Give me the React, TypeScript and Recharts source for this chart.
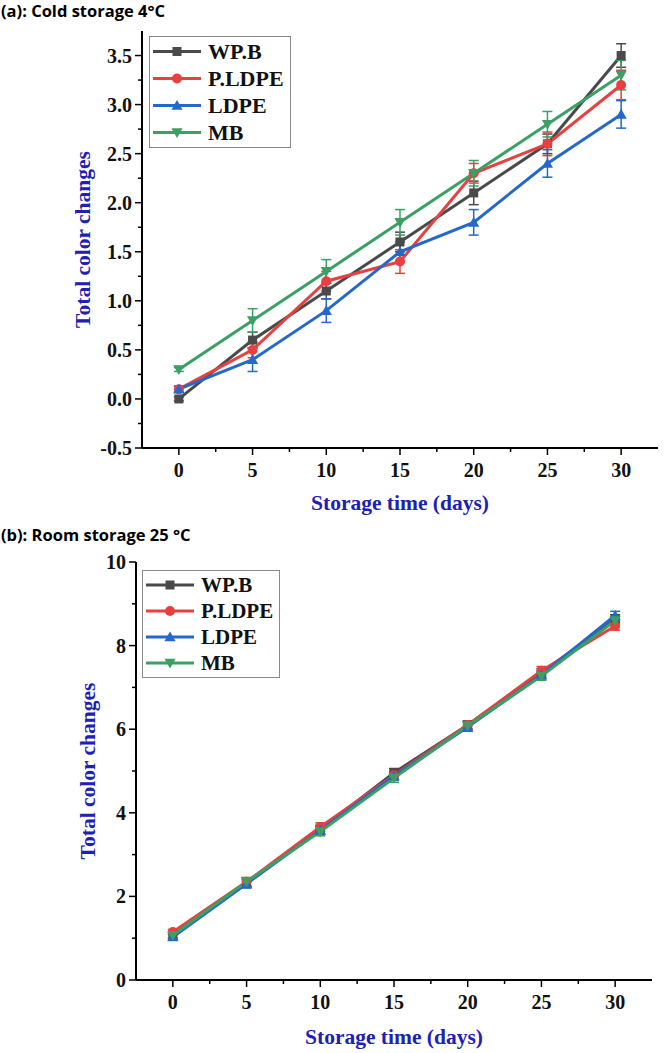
import React from 'react';
import { LineChart, Line, XAxis, YAxis, ErrorBar, Legend } from 'recharts';

// ---------- data ----------
const days = [0, 5, 10, 15, 20, 25, 30];
const seriesNames = ['WP.B', 'P.LDPE', 'LDPE', 'MB'];

// (a) cold storage 4 °C
const coldWPB = [0.0, 0.6, 1.1, 1.6, 2.1, 2.6, 3.5];
const coldWPBErr = [0.02, 0.08, 0.08, 0.1, 0.12, 0.1, 0.12];
const coldPLDPE = [0.1, 0.5, 1.2, 1.4, 2.3, 2.6, 3.2];
const coldPLDPEErr = [0.03, 0.08, 0.1, 0.12, 0.1, 0.12, 0.15];
const coldLDPE = [0.1, 0.4, 0.9, 1.5, 1.8, 2.4, 2.9];
const coldLDPEErr = [0.03, 0.12, 0.12, 0.1, 0.13, 0.14, 0.14];
const coldMB = [0.3, 0.8, 1.3, 1.8, 2.3, 2.8, 3.3];
const coldMBErr = [0.02, 0.12, 0.12, 0.13, 0.13, 0.13, 0.15];

// (b) room storage 25 °C
const roomWPB = [1.07, 2.33, 3.6, 4.96, 6.1, 7.35, 8.64];
const roomWPBErr = [0.06, 0.1, 0.1, 0.1, 0.1, 0.1, 0.1];
const roomPLDPE = [1.15, 2.35, 3.66, 4.9, 6.1, 7.4, 8.47];
const roomPLDPEErr = [0.06, 0.1, 0.1, 0.1, 0.1, 0.1, 0.1];
const roomLDPE = [1.03, 2.3, 3.58, 4.88, 6.05, 7.3, 8.72];
const roomLDPEErr = [0.06, 0.1, 0.1, 0.1, 0.1, 0.1, 0.1];
const roomMB = [1.07, 2.35, 3.55, 4.83, 6.08, 7.27, 8.6];
const roomMBErr = [0.06, 0.1, 0.1, 0.1, 0.1, 0.1, 0.1];

// ticks
const xTicks = [0, 2.5, 5, 7.5, 10, 12.5, 15, 17.5, 20, 22.5, 25, 27.5, 30];
const xMajorTicks = [0, 5, 10, 15, 20, 25, 30];
const coldYTicks = [-0.5, -0.25, 0, 0.25, 0.5, 0.75, 1, 1.25, 1.5, 1.75, 2, 2.25, 2.5, 2.75, 3, 3.25, 3.5];
const coldYMajor = [-0.5, 0, 0.5, 1, 1.5, 2, 2.5, 3, 3.5];
const roomYTicks = [0, 1, 2, 3, 4, 5, 6, 7, 8, 9, 10];
const roomYMajor = [0, 2, 4, 6, 8, 10];

// ---------- style ----------
const SERIF = '"Liberation Serif", "Times New Roman", serif';
const SANS = '"Open Sans", "Noto Sans", sans-serif';
const LABEL_BLUE = '#2020b4';
const keys = ['wpb', 'pldpe', 'ldpe', 'mb'];
const colors = ['#4a4a4a', '#e8403f', '#2468cc', '#3aa064'];
const shapes = ['square', 'circle', 'up', 'down'];

const buildTable = (a: number[], ae: number[], b: number[], be: number[], c: number[], ce: number[], d: number[], de: number[]) =>
  days.map((day, i) => ({
    day,
    wpb: a[i], wpbErr: ae[i],
    pldpe: b[i], pldpeErr: be[i],
    ldpe: c[i], ldpeErr: ce[i],
    mb: d[i], mbErr: de[i],
  }));

const coldData = buildTable(coldWPB, coldWPBErr, coldPLDPE, coldPLDPEErr, coldLDPE, coldLDPEErr, coldMB, coldMBErr);
const roomData = buildTable(roomWPB, roomWPBErr, roomPLDPE, roomPLDPEErr, roomLDPE, roomLDPEErr, roomMB, roomMBErr);

function Marker({ shape, cx, cy, color, size }: any) {
  const s = size;
  if (cx == null || cy == null) return null;
  switch (shape) {
    case 'square':
      return <rect x={cx - s / 2} y={cy - s / 2} width={s} height={s} fill={color} />;
    case 'circle':
      return <circle cx={cx} cy={cy} r={s / 2 + 0.5} fill={color} />;
    case 'up':
      return (
        <polygon
          points={`${cx},${cy - s * 0.62} ${cx - s * 0.62},${cy + s * 0.48} ${cx + s * 0.62},${cy + s * 0.48}`}
          fill={color}
        />
      );
    default:
      return (
        <polygon
          points={`${cx},${cy + s * 0.62} ${cx - s * 0.62},${cy - s * 0.48} ${cx + s * 0.62},${cy - s * 0.48}`}
          fill={color}
        />
      );
  }
}

function LegendBox({ fontSize, rowH }: { fontSize: number; rowH: number }) {
  return (
    <div
      style={{
        border: '1.5px solid #8a8a8a',
        background: '#fff',
        padding: '1px 6px 1px 2px',
        display: 'inline-block',
      }}
    >
      {seriesNames.map((name, i) => (
        <div key={name} style={{ display: 'flex', alignItems: 'center', height: rowH }}>
          <svg width={50} height={rowH} style={{ display: 'block' }}>
            <line x1={1} x2={49} y1={rowH / 2} y2={rowH / 2} stroke={colors[i]} strokeWidth={3} />
            <Marker shape={shapes[i]} cx={25} cy={rowH / 2} color={colors[i]} size={9} />
          </svg>
          <span
            style={{
              fontFamily: SERIF,
              fontWeight: 'bold',
              fontSize,
              color: '#111',
              marginLeft: 6,
              lineHeight: 1,
              whiteSpace: 'nowrap',
            }}
          >
            {name}
          </span>
        </div>
      ))}
    </div>
  );
}

const makeYTick = (major: number[], fmt: (v: number) => string, margin: number) => (props: any) => {
  const { x, y, payload } = props;
  const v = payload.value;
  const isMajor = major.some((m) => Math.abs(m - v) < 1e-6);
  const ax = x + margin;
  return (
    <g>
      <line x1={ax} x2={ax - (isMajor ? 7 : 4)} y1={y} y2={y} stroke="#000" strokeWidth={1.5} />
      {isMajor && (
        <text x={x} y={y} dy="0.35em" textAnchor="end" fontFamily={SERIF} fontWeight="bold" fontSize={20} fill="#111">
          {fmt(v)}
        </text>
      )}
    </g>
  );
};

const makeXTick = (margin: number) => (props: any) => {
  const { x, y, payload } = props;
  const v = payload.value;
  const isMajor = xMajorTicks.some((m) => Math.abs(m - v) < 1e-6);
  const ay = y - margin;
  return (
    <g>
      <line x1={x} x2={x} y1={ay} y2={ay + (isMajor ? 7 : 4)} stroke="#000" strokeWidth={1.5} />
      {isMajor && (
        <text x={x} y={y} dy="0.35em" textAnchor="middle" fontFamily={SERIF} fontWeight="bold" fontSize={20} fill="#111">
          {v}
        </text>
      )}
    </g>
  );
};

const yTitle = (cx: number, fallbackY: number, fallbackH: number) => (props: any) => {
  const vb = props && props.viewBox ? props.viewBox : { y: fallbackY, height: fallbackH };
  const cy = vb.y + vb.height / 2;
  return (
    <text
      x={cx}
      y={cy}
      transform={`rotate(-90, ${cx}, ${cy})`}
      textAnchor="middle"
      dominantBaseline="central"
      fontFamily={SERIF}
      fontWeight="bold"
      fontSize={21.5}
      fill={LABEL_BLUE}
    >
      Total color changes
    </text>
  );
};

const xTitle = (dyBelow: number, fallback: any) => (props: any) => {
  const vb = props && props.viewBox ? props.viewBox : fallback;
  const cx = vb.x + vb.width / 2;
  const cy = vb.y + dyBelow;
  return (
    <text x={cx} y={cy} textAnchor="middle" dominantBaseline="central" fontFamily={SERIF} fontWeight="bold" fontSize={21.5} fill={LABEL_BLUE}>
      Storage time (days)
    </text>
  );
};

const axisLine = { stroke: '#000', strokeWidth: 2 };

function Panel({
  data, width, height, margin, yWidth, xHeight, yDomain, yTicks, yMajor, yFmt, yTitleX, legendPos, legendFont, legendRow, xTitleDy,
}: any) {
  const plotTop = margin.top;
  const plotH = height - margin.top - xHeight - margin.bottom;
  const plotLeft = margin.left + yWidth;
  const plotW = width - plotLeft - margin.right;
  return (
    <LineChart width={width} height={height} data={data} margin={margin}>
      <XAxis
        dataKey="day"
        type="number"
        domain={[-2.5, 32.5]}
        ticks={xTicks}
        interval={0}
        allowDataOverflow
        height={xHeight}
        tickSize={0}
        tickMargin={22}
        axisLine={axisLine}
        tickLine={false}
        tick={makeXTick(22)}
        label={xTitle(xTitleDy, { x: plotLeft, width: plotW, y: plotTop + plotH })}
      />
      <XAxis xAxisId="top" orientation="top" type="number" domain={[-2.5, 32.5]} height={0} tick={false} tickLine={false} axisLine={axisLine} />
      <YAxis
        type="number"
        domain={yDomain}
        ticks={yTicks}
        interval={0}
        allowDataOverflow
        width={yWidth}
        tickSize={0}
        tickMargin={10}
        axisLine={axisLine}
        tickLine={false}
        tick={makeYTick(yMajor, yFmt, 10)}
        label={yTitle(yTitleX, plotTop, plotH)}
      />
      <YAxis yAxisId="right" orientation="right" type="number" domain={yDomain} width={0} tick={false} tickLine={false} axisLine={axisLine} />
      <Legend
        layout="vertical"
        align="center"
        verticalAlign="middle"
        wrapperStyle={{ left: legendPos.left, top: legendPos.top, width: 'auto', height: 'auto' }}
        content={() => <LegendBox fontSize={legendFont} rowH={legendRow} />}
      />
      {keys.map((k, i) => (
        <Line
          key={k}
          dataKey={k}
          name={seriesNames[i]}
          stroke={colors[i]}
          strokeWidth={3}
          isAnimationActive={false}
          dot={(p: any) => <Marker key={`${k}-${p.index}`} shape={shapes[i]} cx={p.cx} cy={p.cy} color={colors[i]} size={9} />}
          activeDot={false}
        >
          <ErrorBar dataKey={`${k}Err`} direction="y" width={5} stroke={colors[i]} strokeWidth={1.5} isAnimationActive={false} />
        </Line>
      ))}
    </LineChart>
  );
}

export default function App() {
  return (
    <div style={{ position: 'absolute', left: 0, top: 0, width: 664, height: 1053, background: '#fff', overflow: 'hidden' }}>
      <div style={{ position: 'absolute', left: 1, top: -1, fontFamily: SANS, fontWeight: 700, fontSize: 16.5, color: '#000', whiteSpace: 'nowrap' }}>
        (a): Cold storage 4°C
      </div>
      <div style={{ position: 'absolute', left: 0, top: 0 }}>
        <Panel
          data={coldData}
          width={664}
          height={525}
          margin={{ top: 31, right: 6, bottom: 0, left: 0 }}
          yWidth={142}
          xHeight={77}
          yDomain={[-0.5, 3.75]}
          yTicks={coldYTicks}
          yMajor={coldYMajor}
          yFmt={(v: number) => v.toFixed(1)}
          yTitleX={83}
          legendPos={{ left: 149, top: 36 }}
          legendFont={22}
          legendRow={27}
          xTitleDy={55}
        />
      </div>
      <div style={{ position: 'absolute', left: 1, top: 523, fontFamily: SANS, fontWeight: 700, fontSize: 16.5, color: '#000', whiteSpace: 'nowrap' }}>
        (b): Room storage 25 °C
      </div>
      <div style={{ position: 'absolute', left: 0, top: 530 }}>
        <Panel
          data={roomData}
          width={664}
          height={523}
          margin={{ top: 32, right: 12, bottom: 0, left: 0 }}
          yWidth={136}
          xHeight={73}
          yDomain={[0, 10]}
          yTicks={roomYTicks}
          yMajor={roomYMajor}
          yFmt={(v: number) => String(v)}
          yTitleX={88}
          legendPos={{ left: 142, top: 40 }}
          legendFont={21}
          legendRow={26}
          xTitleDy={57}
        />
      </div>
    </div>
  );
}
